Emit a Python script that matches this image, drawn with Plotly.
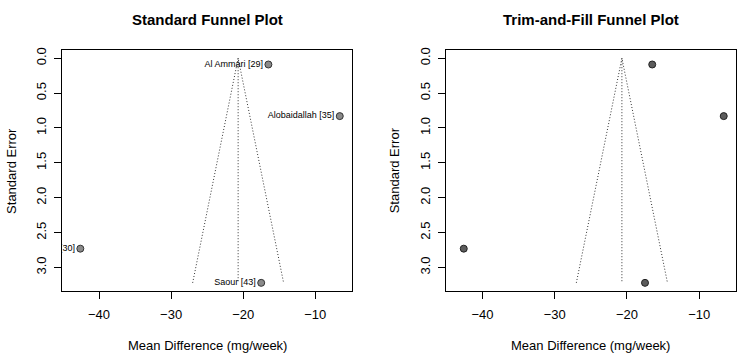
import plotly.graph_objects as go

# ---- data ----
studies = ["Al Ammari [29]", "Alobaidallah [35]", "Study [30]", "Saour [43]"]
mean_diff = [-16.5, -6.6, -42.6, -17.5]
std_err = [0.09, 0.83, 2.73, 3.22]

pooled_std = -20.7      # pooled estimate, standard funnel
pooled_tf = -20.7       # pooled estimate, trim-and-fill funnel
se_max = 3.22
z = 1.96

x_ticks = [-40, -30, -20, -10]
y_ticks = [0.0, 0.5, 1.0, 1.5, 2.0, 2.5, 3.0]

titles = ["Standard Funnel Plot", "Trim-and-Fill Funnel Plot"]
x_title = "Mean Difference (mg/week)"
y_title = "Standard Error"

FONT = "Liberation Sans, Arial, Helvetica, sans-serif"

fig = go.Figure()


def add_funnel(center, xa, ya):
    lo = center - z * se_max
    hi = center + z * se_max
    dot = dict(color="#333", width=1, dash="1px,2px")
    fig.add_trace(go.Scatter(x=[lo, center, hi], y=[se_max, 0, se_max], mode="lines",
                             line=dot, xaxis=xa, yaxis=ya, showlegend=False, hoverinfo="skip"))
    fig.add_trace(go.Scatter(x=[center, center], y=[0, se_max], mode="lines",
                             line=dot, xaxis=xa, yaxis=ya, showlegend=False, hoverinfo="skip"))


add_funnel(pooled_std, "x", "y")
add_funnel(pooled_tf, "x2", "y2")

fig.add_trace(go.Scatter(x=mean_diff, y=std_err, mode="markers+text", text=studies,
                         textposition="middle left", cliponaxis=True,
                         textfont=dict(family=FONT, size=9, color="black"),
                         marker=dict(size=7, color="#8a8a8a", line=dict(color="#333", width=1)),
                         xaxis="x", yaxis="y", showlegend=False))
fig.add_trace(go.Scatter(x=mean_diff, y=std_err, mode="markers",
                         marker=dict(size=7, color="#5c5c5c", line=dict(color="#222", width=1)),
                         xaxis="x2", yaxis="y2", showlegend=False))

xr = [-45.1, -4.9]
yr = [3.341, -0.119]
ydom = [1 - 290.7 / 362, 1 - 47.3 / 362]
xdoms = [[62.3 / 750, 352 / 750], [445.7 / 750, 736 / 750]]

axis_common = dict(showline=True, mirror=True, linecolor="black", linewidth=1,
                   showgrid=False, zeroline=False, ticks="outside", ticklen=7,
                   tickcolor="black", tickwidth=1,
                   tickfont=dict(family=FONT, size=13, color="black"))

layout = dict(
    width=750, height=362, margin=dict(l=0, r=0, t=0, b=0),
    paper_bgcolor="white", plot_bgcolor="white", showlegend=False,
)
for i, suf in enumerate(["", "2"]):
    layout["xaxis" + suf] = dict(axis_common, domain=xdoms[i], range=xr,
                                 tickvals=x_ticks, anchor="y" + suf,
                                 ticklabelstandoff=4)
    layout["yaxis" + suf] = dict(axis_common, domain=ydom, range=yr,
                                 tickvals=y_ticks, tickformat=".1f", tickangle=-90,
                                 anchor="x" + suf, ticklabelstandoff=3)
fig.update_layout(**layout)

ann = []
for i in range(2):
    cx = (xdoms[i][0] + xdoms[i][1]) / 2
    ann.append(dict(text="<b>" + titles[i] + "</b>", x=cx, y=1 - 17 / 362, xref="paper", yref="paper",
                    showarrow=False, font=dict(family=FONT, size=15, color="black"),
                    xanchor="center", yanchor="middle"))
    ann.append(dict(text=x_title, x=cx, y=1 - 345.5 / 362, xref="paper", yref="paper",
                    showarrow=False, font=dict(family=FONT, size=13, color="black"),
                    xanchor="center", yanchor="middle"))
    ann.append(dict(text=y_title, x=(xdoms[i][0] * 750 - 51) / 750, y=(ydom[0] + ydom[1]) / 2,
                    xref="paper", yref="paper", textangle=-90,
                    showarrow=False, font=dict(family=FONT, size=13, color="black"),
                    xanchor="center", yanchor="middle"))
fig.update_layout(annotations=ann)

fig.write_html("out.html")
